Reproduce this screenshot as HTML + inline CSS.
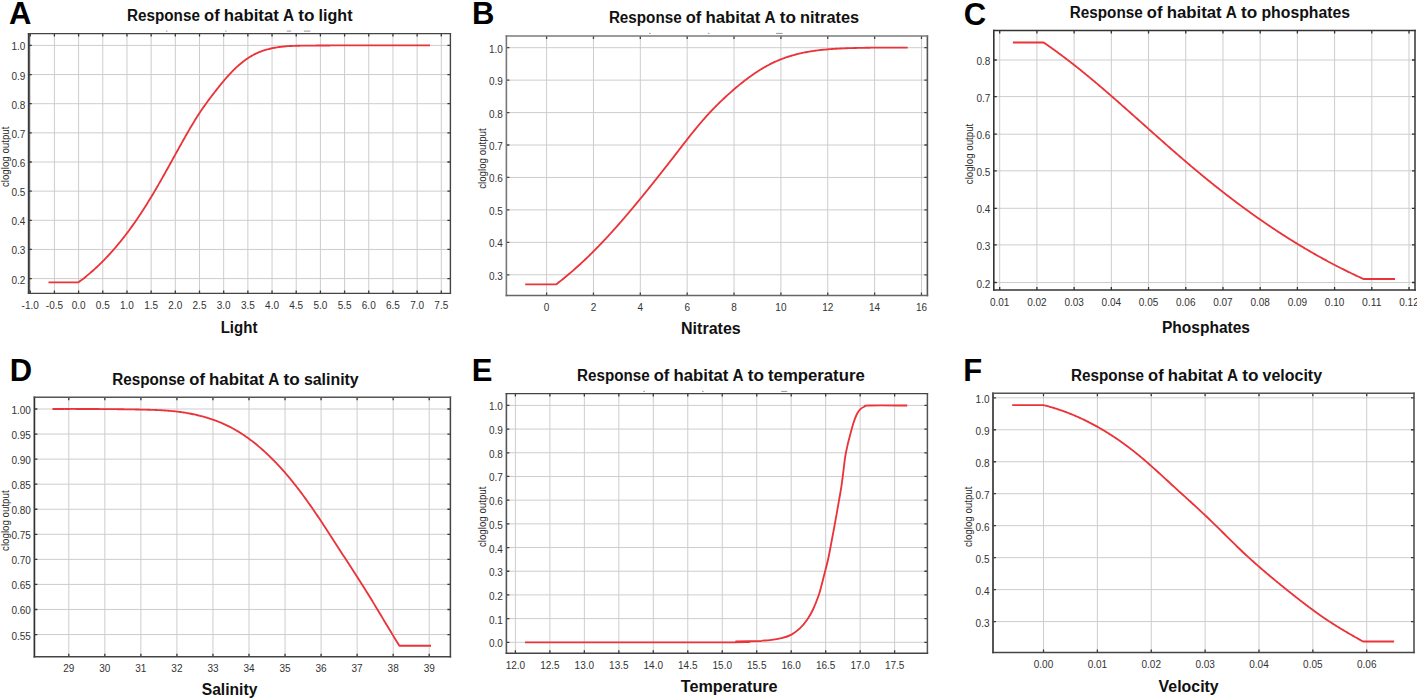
<!DOCTYPE html><html><head><meta charset="utf-8"><style>html,body{margin:0;padding:0;background:#fff;overflow:hidden;width:1417px;height:698px;}svg{display:block;}text{font-family:"Liberation Sans",sans-serif;}</style></head><body>
<svg width="1417" height="698" viewBox="0 0 1417 698">
<rect width="1417" height="698" fill="#fff"/>
<g stroke="#cdcdcd" stroke-width="1.0"><line x1="30.24" y1="33.6" x2="30.24" y2="293.4"/><line x1="54.42" y1="33.6" x2="54.42" y2="293.4"/><line x1="78.6" y1="33.6" x2="78.6" y2="293.4"/><line x1="102.78" y1="33.6" x2="102.78" y2="293.4"/><line x1="126.96" y1="33.6" x2="126.96" y2="293.4"/><line x1="151.14" y1="33.6" x2="151.14" y2="293.4"/><line x1="175.32" y1="33.6" x2="175.32" y2="293.4"/><line x1="199.5" y1="33.6" x2="199.5" y2="293.4"/><line x1="223.68" y1="33.6" x2="223.68" y2="293.4"/><line x1="247.86" y1="33.6" x2="247.86" y2="293.4"/><line x1="272.04" y1="33.6" x2="272.04" y2="293.4"/><line x1="296.22" y1="33.6" x2="296.22" y2="293.4"/><line x1="320.4" y1="33.6" x2="320.4" y2="293.4"/><line x1="344.58" y1="33.6" x2="344.58" y2="293.4"/><line x1="368.76" y1="33.6" x2="368.76" y2="293.4"/><line x1="392.94" y1="33.6" x2="392.94" y2="293.4"/><line x1="417.12" y1="33.6" x2="417.12" y2="293.4"/><line x1="441.3" y1="33.6" x2="441.3" y2="293.4"/><line x1="28.8" y1="278.6" x2="450.4" y2="278.6"/><line x1="28.8" y1="249.45" x2="450.4" y2="249.45"/><line x1="28.8" y1="220.3" x2="450.4" y2="220.3"/><line x1="28.8" y1="191.15" x2="450.4" y2="191.15"/><line x1="28.8" y1="162" x2="450.4" y2="162"/><line x1="28.8" y1="132.85" x2="450.4" y2="132.85"/><line x1="28.8" y1="103.7" x2="450.4" y2="103.7"/><line x1="28.8" y1="74.55" x2="450.4" y2="74.55"/><line x1="28.8" y1="45.4" x2="450.4" y2="45.4"/></g>
<path d="M30.24 293.4V290.4M30.24 33.6V36.6M54.42 293.4V290.4M54.42 33.6V36.6M78.6 293.4V290.4M78.6 33.6V36.6M102.78 293.4V290.4M102.78 33.6V36.6M126.96 293.4V290.4M126.96 33.6V36.6M151.14 293.4V290.4M151.14 33.6V36.6M175.32 293.4V290.4M175.32 33.6V36.6M199.5 293.4V290.4M199.5 33.6V36.6M223.68 293.4V290.4M223.68 33.6V36.6M247.86 293.4V290.4M247.86 33.6V36.6M272.04 293.4V290.4M272.04 33.6V36.6M296.22 293.4V290.4M296.22 33.6V36.6M320.4 293.4V290.4M320.4 33.6V36.6M344.58 293.4V290.4M344.58 33.6V36.6M368.76 293.4V290.4M368.76 33.6V36.6M392.94 293.4V290.4M392.94 33.6V36.6M417.12 293.4V290.4M417.12 33.6V36.6M441.3 293.4V290.4M441.3 33.6V36.6M28.8 278.6H31.8M450.4 278.6H447.4M28.8 249.45H31.8M450.4 249.45H447.4M28.8 220.3H31.8M450.4 220.3H447.4M28.8 191.15H31.8M450.4 191.15H447.4M28.8 162H31.8M450.4 162H447.4M28.8 132.85H31.8M450.4 132.85H447.4M28.8 103.7H31.8M450.4 103.7H447.4M28.8 74.55H31.8M450.4 74.55H447.4M28.8 45.4H31.8M450.4 45.4H447.4" stroke="#3a3a3a" stroke-width="1.3" fill="none"/>
<path d="M48.5 282.3L78.5 282.3L79.47 281.58L80.43 280.86L81.39 280.13L82.35 279.4L83.29 278.66L84.24 277.91L85.18 277.16L86.11 276.41L87.04 275.65L87.96 274.88L88.88 274.11L89.79 273.34L90.7 272.56L91.6 271.77L92.5 270.98L93.4 270.19L94.29 269.39L95.17 268.59L96.05 267.78L96.92 266.97L97.79 266.15L98.66 265.33L99.52 264.5L100.38 263.67L101.23 262.83L102.08 261.99L102.92 261.15L103.76 260.3L104.59 259.45L105.42 258.59L106.25 257.73L107.07 256.86L107.89 256L108.7 255.12L109.51 254.25L110.31 253.37L111.11 252.48L111.91 251.59L112.7 250.7L113.49 249.8L114.27 248.91L115.05 248L115.83 247.1L116.6 246.19L117.37 245.27L118.13 244.36L118.9 243.44L119.65 242.51L120.41 241.59L121.16 240.66L121.9 239.72L122.64 238.79L123.38 237.85L124.12 236.91L124.85 235.96L125.58 235.01L126.3 234.06L127.03 233.11L127.74 232.15L128.46 231.19L129.17 230.23L129.88 229.26L130.58 228.3L131.29 227.33L131.98 226.35L132.68 225.38L133.37 224.4L134.06 223.42L134.75 222.44L135.43 221.46L136.11 220.47L136.79 219.48L137.46 218.49L138.14 217.5L138.81 216.5L139.47 215.5L140.13 214.51L140.8 213.5L141.45 212.5L142.11 211.5L142.76 210.49L143.41 209.48L144.06 208.47L144.7 207.46L145.35 206.45L145.99 205.43L146.62 204.42L147.26 203.4L147.89 202.38L148.52 201.36L149.15 200.34L149.77 199.32L150.4 198.29L151.02 197.27L151.64 196.24L152.26 195.21L152.87 194.19L153.48 193.16L154.1 192.13L154.7 191.1L155.31 190.06L155.92 189.03L156.52 188L157.12 186.96L157.72 185.93L158.32 184.89L158.92 183.85L159.51 182.82L160.11 181.78L160.7 180.74L161.29 179.7L161.88 178.66L162.47 177.62L163.06 176.58L163.65 175.54L164.23 174.49L164.82 173.45L165.4 172.41L165.98 171.37L166.57 170.32L167.15 169.28L167.73 168.23L168.31 167.19L168.89 166.14L169.47 165.1L170.05 164.05L170.63 163.01L171.21 161.96L171.78 160.91L172.36 159.87L172.94 158.82L173.52 157.78L174.1 156.73L174.67 155.68L175.25 154.64L175.83 153.59L176.41 152.54L176.99 151.5L177.57 150.45L178.15 149.41L178.73 148.36L179.31 147.31L179.89 146.27L180.47 145.22L181.05 144.18L181.64 143.13L182.22 142.09L182.81 141.05L183.39 140L183.98 138.96L184.57 137.92L185.16 136.87L185.75 135.83L186.34 134.79L186.93 133.75L187.53 132.71L188.13 131.68L188.73 130.64L189.33 129.6L189.93 128.57L190.54 127.54L191.15 126.51L191.76 125.48L192.37 124.45L192.99 123.42L193.61 122.4L194.23 121.38L194.86 120.36L195.49 119.34L196.12 118.33L196.76 117.32L197.4 116.31L198.05 115.3L198.7 114.3L199.35 113.3L200.01 112.3L200.68 111.31L201.34 110.32L202.02 109.33L202.69 108.35L203.38 107.36L204.06 106.39L204.75 105.41L205.44 104.44L206.14 103.47L206.84 102.5L207.55 101.54L208.26 100.57L208.97 99.62L209.68 98.66L210.4 97.7L211.12 96.75L211.85 95.8L212.57 94.85L213.3 93.9L214.03 92.95L214.77 92.01L215.5 91.07L216.24 90.12L216.98 89.18L217.72 88.24L218.47 87.31L219.21 86.37L219.96 85.44L220.72 84.51L221.47 83.58L222.24 82.66L223 81.74L223.77 80.82L224.54 79.91L225.32 79L226.11 78.1L226.9 77.2L227.7 76.3L228.5 75.41L229.31 74.53L230.12 73.65L230.95 72.78L231.78 71.92L232.62 71.06L233.46 70.21L234.32 69.36L235.18 68.53L236.05 67.7L236.93 66.88L237.82 66.07L238.72 65.27L239.62 64.49L240.54 63.71L241.46 62.95L242.4 62.19L243.34 61.45L244.29 60.73L245.25 60.02L246.22 59.33L247.2 58.65L248.19 57.98L249.19 57.34L250.2 56.71L251.22 56.1L252.24 55.51L253.28 54.94L254.33 54.39L255.39 53.86L256.46 53.35L257.54 52.86L258.62 52.39L259.72 51.94L260.82 51.51L261.94 51.11L263.06 50.71L264.18 50.34L265.32 49.99L266.46 49.65L267.61 49.33L268.76 49.03L269.92 48.74L271.08 48.48L272.25 48.22L273.42 47.98L274.6 47.76L275.77 47.55L276.96 47.35L278.14 47.17L279.33 47L280.51 46.85L281.7 46.71L282.89 46.58L284.08 46.46L285.28 46.35L286.47 46.25L287.66 46.17L288.85 46.09L290.05 46.02L291.24 45.96L292.43 45.91L293.63 45.86L294.82 45.82L296.01 45.79L297.21 45.76L298.4 45.73L299.6 45.71L300.79 45.69L301.99 45.68L303.18 45.66L304.38 45.65L305.57 45.64L306.77 45.62L307.96 45.61L309.16 45.6L310.35 45.59L311.55 45.58L312.74 45.57L313.94 45.56L315.13 45.55L316.33 45.54L317.52 45.53L318.72 45.52L319.92 45.51L321.11 45.5L322.31 45.5L323.5 45.49L324.7 45.48L325.89 45.47L327.09 45.47L328.28 45.46L329.48 45.46L330.68 45.45L331.87 45.44L333.07 45.44L334.26 45.43L335.46 45.43L336.65 45.42L337.85 45.42L339.05 45.42L340.24 45.41L341.44 45.41L342.63 45.41L343.83 45.4L345.03 45.4L346.22 45.4L347.42 45.4L348.61 45.39L349.81 45.39L351.01 45.39L352.2 45.39L353.4 45.39L354.59 45.39L355.79 45.38L356.99 45.38L358.18 45.38L359.38 45.38L360.58 45.38L361.77 45.38L362.97 45.38L364.17 45.38L365.36 45.38L366.56 45.38L367.75 45.38L368.95 45.38L370.15 45.38L371.34 45.38L372.54 45.38L373.74 45.38L374.93 45.38L376.13 45.38L377.33 45.39L378.52 45.39L379.72 45.39L380.92 45.39L382.11 45.39L383.31 45.39L384.51 45.39L385.7 45.39L386.9 45.39L388.1 45.39L389.3 45.4L390.49 45.4L391.69 45.4L392.89 45.4L394.08 45.4L395.28 45.4L396.48 45.4L397.67 45.4L398.87 45.41L400.07 45.41L401.27 45.41L402.46 45.41L403.66 45.41L404.86 45.41L406.05 45.41L407.25 45.41L408.45 45.41L409.65 45.41L410.84 45.41L412.04 45.41L413.24 45.41L414.43 45.41L415.63 45.41L416.83 45.41L418.03 45.41L419.22 45.41L420.42 45.41L421.62 45.41L422.82 45.41L424.01 45.41L425.21 45.41L426.41 45.41L427.61 45.4L428.8 45.4L430 45.4" fill="none" stroke="#ea3439" stroke-width="1.85" stroke-linejoin="round" stroke-linecap="butt"/>
<line x1="28.8" y1="32.9" x2="28.8" y2="294.1" stroke="#3a3a3a" stroke-width="2.0"/>
<line x1="450.4" y1="32.9" x2="450.4" y2="294.1" stroke="#444" stroke-width="1.4"/>
<line x1="27.8" y1="33.6" x2="451.1" y2="33.6" stroke="#444" stroke-width="1.4"/>
<line x1="27.8" y1="293.4" x2="451.1" y2="293.4" stroke="#444" stroke-width="1.4"/>
<g font-size="10.0" fill="#333"><text x="11.5" y="283.6" textLength="13.9" lengthAdjust="spacingAndGlyphs">0.2</text><text x="11.5" y="254.45" textLength="13.9" lengthAdjust="spacingAndGlyphs">0.3</text><text x="11.5" y="225.3" textLength="13.9" lengthAdjust="spacingAndGlyphs">0.4</text><text x="11.5" y="196.15" textLength="13.9" lengthAdjust="spacingAndGlyphs">0.5</text><text x="11.5" y="167" textLength="13.9" lengthAdjust="spacingAndGlyphs">0.6</text><text x="11.5" y="137.85" textLength="13.9" lengthAdjust="spacingAndGlyphs">0.7</text><text x="11.5" y="108.7" textLength="13.9" lengthAdjust="spacingAndGlyphs">0.8</text><text x="11.5" y="79.55" textLength="13.9" lengthAdjust="spacingAndGlyphs">0.9</text><text x="11.5" y="50.4" textLength="13.9" lengthAdjust="spacingAndGlyphs">1.0</text><text x="21.62" y="308.6" textLength="17.23" lengthAdjust="spacingAndGlyphs">-1.0</text><text x="45.8" y="308.6" textLength="17.23" lengthAdjust="spacingAndGlyphs">-0.5</text><text x="71.65" y="308.6" textLength="13.9" lengthAdjust="spacingAndGlyphs">0.0</text><text x="95.83" y="308.6" textLength="13.9" lengthAdjust="spacingAndGlyphs">0.5</text><text x="120.01" y="308.6" textLength="13.9" lengthAdjust="spacingAndGlyphs">1.0</text><text x="144.19" y="308.6" textLength="13.9" lengthAdjust="spacingAndGlyphs">1.5</text><text x="168.37" y="308.6" textLength="13.9" lengthAdjust="spacingAndGlyphs">2.0</text><text x="192.55" y="308.6" textLength="13.9" lengthAdjust="spacingAndGlyphs">2.5</text><text x="216.73" y="308.6" textLength="13.9" lengthAdjust="spacingAndGlyphs">3.0</text><text x="240.91" y="308.6" textLength="13.9" lengthAdjust="spacingAndGlyphs">3.5</text><text x="265.09" y="308.6" textLength="13.9" lengthAdjust="spacingAndGlyphs">4.0</text><text x="289.27" y="308.6" textLength="13.9" lengthAdjust="spacingAndGlyphs">4.5</text><text x="313.45" y="308.6" textLength="13.9" lengthAdjust="spacingAndGlyphs">5.0</text><text x="337.63" y="308.6" textLength="13.9" lengthAdjust="spacingAndGlyphs">5.5</text><text x="361.81" y="308.6" textLength="13.9" lengthAdjust="spacingAndGlyphs">6.0</text><text x="385.99" y="308.6" textLength="13.9" lengthAdjust="spacingAndGlyphs">6.5</text><text x="410.17" y="308.6" textLength="13.9" lengthAdjust="spacingAndGlyphs">7.0</text><text x="434.35" y="308.6" textLength="13.9" lengthAdjust="spacingAndGlyphs">7.5</text></g>
<g font-size="15.8" font-weight="bold" fill="#111"><text x="126.98" y="20.7" textLength="72.9" lengthAdjust="spacingAndGlyphs">Response</text><text x="204.03" y="20.7" textLength="15.66" lengthAdjust="spacingAndGlyphs">of</text><text x="223.83" y="20.7" textLength="55.03" lengthAdjust="spacingAndGlyphs">habitat</text><text x="283" y="20.7" textLength="11.11" lengthAdjust="spacingAndGlyphs">A</text><text x="298.25" y="20.7" textLength="16.22" lengthAdjust="spacingAndGlyphs">to</text><text x="318.62" y="20.7" textLength="33.91" lengthAdjust="spacingAndGlyphs">light</text></g>
<text x="220.7" y="333.2" font-size="15.6" font-weight="bold" fill="#111" textLength="36.7" lengthAdjust="spacingAndGlyphs">Light</text>
<text x="9.05" y="24.1" font-size="31.0" font-weight="bold" fill="#000">A</text>
<text transform="translate(8.9,187.1) rotate(-90)" x="0" y="0" font-size="10.8" fill="#2a2a2a" textLength="60.5" lengthAdjust="spacingAndGlyphs">cloglog output</text>
<g stroke="#cdcdcd" stroke-width="1.0"><line x1="546.6" y1="36" x2="546.6" y2="295.5"/><line x1="593.46" y1="36" x2="593.46" y2="295.5"/><line x1="640.32" y1="36" x2="640.32" y2="295.5"/><line x1="687.18" y1="36" x2="687.18" y2="295.5"/><line x1="734.04" y1="36" x2="734.04" y2="295.5"/><line x1="780.9" y1="36" x2="780.9" y2="295.5"/><line x1="827.76" y1="36" x2="827.76" y2="295.5"/><line x1="874.62" y1="36" x2="874.62" y2="295.5"/><line x1="921.48" y1="36" x2="921.48" y2="295.5"/><line x1="506.4" y1="274.78" x2="927.4" y2="274.78"/><line x1="506.4" y1="242.34" x2="927.4" y2="242.34"/><line x1="506.4" y1="209.9" x2="927.4" y2="209.9"/><line x1="506.4" y1="177.46" x2="927.4" y2="177.46"/><line x1="506.4" y1="145.02" x2="927.4" y2="145.02"/><line x1="506.4" y1="112.58" x2="927.4" y2="112.58"/><line x1="506.4" y1="80.14" x2="927.4" y2="80.14"/><line x1="506.4" y1="47.7" x2="927.4" y2="47.7"/></g>
<path d="M546.6 295.5V292.5M546.6 36V39M593.46 295.5V292.5M593.46 36V39M640.32 295.5V292.5M640.32 36V39M687.18 295.5V292.5M687.18 36V39M734.04 295.5V292.5M734.04 36V39M780.9 295.5V292.5M780.9 36V39M827.76 295.5V292.5M827.76 36V39M874.62 295.5V292.5M874.62 36V39M921.48 295.5V292.5M921.48 36V39M506.4 274.78H509.4M927.4 274.78H924.4M506.4 242.34H509.4M927.4 242.34H924.4M506.4 209.9H509.4M927.4 209.9H924.4M506.4 177.46H509.4M927.4 177.46H924.4M506.4 145.02H509.4M927.4 145.02H924.4M506.4 112.58H509.4M927.4 112.58H924.4M506.4 80.14H509.4M927.4 80.14H924.4M506.4 47.7H509.4M927.4 47.7H924.4" stroke="#444" stroke-width="1.3" fill="none"/>
<path d="M525.2 284.4L556.1 284.4L557.01 283.7L557.93 283L558.83 282.29L559.74 281.58L560.64 280.87L561.54 280.15L562.44 279.43L563.34 278.71L564.23 277.98L565.12 277.26L566.01 276.53L566.89 275.79L567.77 275.06L568.65 274.32L569.53 273.57L570.4 272.83L571.27 272.08L572.14 271.33L573.01 270.58L573.87 269.82L574.73 269.07L575.59 268.31L576.45 267.54L577.3 266.78L578.15 266.01L579 265.24L579.85 264.46L580.7 263.69L581.54 262.91L582.38 262.13L583.22 261.35L584.05 260.56L584.89 259.77L585.72 258.98L586.55 258.19L587.37 257.4L588.2 256.6L589.02 255.8L589.84 255L590.66 254.2L591.48 253.39L592.29 252.59L593.11 251.78L593.92 250.97L594.73 250.15L595.53 249.34L596.34 248.52L597.14 247.7L597.94 246.88L598.74 246.06L599.54 245.23L600.33 244.4L601.13 243.58L601.92 242.75L602.71 241.91L603.5 241.08L604.29 240.24L605.07 239.41L605.85 238.57L606.64 237.73L607.42 236.88L608.19 236.04L608.97 235.2L609.75 234.35L610.52 233.5L611.29 232.65L612.06 231.8L612.83 230.95L613.6 230.09L614.37 229.24L615.13 228.38L615.9 227.52L616.66 226.66L617.42 225.8L618.18 224.94L618.94 224.08L619.69 223.21L620.45 222.35L621.2 221.48L621.96 220.61L622.71 219.74L623.46 218.87L624.21 218L624.96 217.13L625.7 216.26L626.45 215.39L627.2 214.51L627.94 213.63L628.68 212.76L629.42 211.88L630.16 211L630.9 210.12L631.64 209.24L632.38 208.36L633.12 207.48L633.85 206.6L634.59 205.72L635.32 204.83L636.06 203.95L636.79 203.06L637.52 202.18L638.25 201.29L638.98 200.41L639.71 199.52L640.44 198.63L641.17 197.74L641.9 196.85L642.62 195.97L643.35 195.08L644.07 194.19L644.8 193.3L645.52 192.4L646.24 191.51L646.97 190.62L647.69 189.73L648.41 188.84L649.13 187.94L649.85 187.05L650.57 186.15L651.29 185.26L652.01 184.36L652.72 183.47L653.44 182.57L654.16 181.68L654.87 180.78L655.59 179.88L656.3 178.98L657.02 178.08L657.73 177.19L658.44 176.29L659.15 175.39L659.87 174.49L660.58 173.59L661.29 172.69L662 171.78L662.71 170.88L663.42 169.98L664.13 169.08L664.84 168.17L665.54 167.27L666.25 166.37L666.96 165.46L667.67 164.56L668.37 163.65L669.08 162.75L669.78 161.84L670.49 160.94L671.19 160.03L671.9 159.12L672.6 158.22L673.31 157.31L674.01 156.4L674.71 155.49L675.42 154.59L676.12 153.68L676.82 152.77L677.52 151.86L678.23 150.95L678.93 150.04L679.63 149.13L680.33 148.22L681.04 147.31L681.74 146.4L682.44 145.5L683.15 144.59L683.85 143.68L684.55 142.77L685.26 141.87L685.97 140.96L686.67 140.06L687.38 139.15L688.09 138.25L688.8 137.35L689.52 136.45L690.23 135.55L690.94 134.65L691.66 133.75L692.38 132.86L693.1 131.96L693.82 131.07L694.54 130.18L695.27 129.29L696 128.4L696.73 127.52L697.46 126.64L698.19 125.76L698.93 124.88L699.66 124L700.41 123.13L701.15 122.25L701.9 121.38L702.64 120.52L703.4 119.65L704.15 118.79L704.91 117.93L705.67 117.08L706.43 116.22L707.2 115.37L707.97 114.53L708.75 113.68L709.52 112.84L710.3 112L711.09 111.17L711.88 110.34L712.67 109.51L713.47 108.69L714.26 107.87L715.07 107.05L715.87 106.24L716.68 105.42L717.49 104.62L718.31 103.81L719.13 103.01L719.95 102.21L720.77 101.41L721.6 100.62L722.43 99.83L723.27 99.04L724.1 98.26L724.94 97.48L725.79 96.7L726.63 95.92L727.48 95.15L728.34 94.38L729.19 93.61L730.05 92.85L730.91 92.08L731.77 91.32L732.64 90.57L733.51 89.81L734.38 89.06L735.25 88.31L736.13 87.57L737.01 86.83L737.89 86.09L738.78 85.36L739.67 84.63L740.56 83.9L741.46 83.18L742.36 82.46L743.26 81.75L744.17 81.04L745.08 80.34L745.99 79.64L746.91 78.95L747.83 78.26L748.75 77.57L749.68 76.9L750.61 76.22L751.55 75.56L752.49 74.9L753.43 74.24L754.38 73.59L755.33 72.95L756.29 72.31L757.25 71.68L758.21 71.06L759.18 70.45L760.15 69.84L761.13 69.24L762.11 68.64L763.1 68.06L764.09 67.48L765.08 66.91L766.08 66.35L767.08 65.8L768.09 65.25L769.1 64.72L770.12 64.19L771.14 63.67L772.16 63.17L773.19 62.67L774.23 62.18L775.27 61.7L776.31 61.23L777.36 60.78L778.41 60.33L779.47 59.89L780.53 59.47L781.6 59.05L782.67 58.64L783.75 58.25L784.82 57.86L785.91 57.48L786.99 57.11L788.08 56.75L789.17 56.41L790.27 56.07L791.37 55.74L792.47 55.41L793.57 55.1L794.68 54.8L795.79 54.51L796.9 54.22L798.01 53.94L799.13 53.68L800.24 53.42L801.36 53.16L802.48 52.92L803.6 52.69L804.73 52.46L805.85 52.24L806.98 52.03L808.11 51.83L809.24 51.63L810.37 51.44L811.5 51.26L812.63 51.08L813.77 50.92L814.9 50.75L816.04 50.6L817.18 50.45L818.32 50.31L819.46 50.17L820.6 50.04L821.74 49.91L822.88 49.79L824.02 49.68L825.17 49.57L826.31 49.46L827.45 49.36L828.6 49.27L829.75 49.17L830.89 49.09L832.04 49.01L833.19 48.93L834.33 48.85L835.48 48.78L836.63 48.71L837.78 48.65L838.93 48.59L840.07 48.53L841.22 48.48L842.37 48.43L843.52 48.38L844.67 48.33L845.81 48.29L846.96 48.24L848.11 48.2L849.26 48.17L850.4 48.13L851.55 48.09L852.69 48.06L853.84 48.03L854.98 48L856.13 47.97L857.27 47.94L858.42 47.91L859.56 47.89L860.7 47.86L861.85 47.84L862.99 47.82L864.13 47.8L865.28 47.78L866.42 47.76L867.56 47.74L868.7 47.73L869.85 47.71L870.99 47.7L872.13 47.68L873.27 47.67L874.41 47.66L875.56 47.65L876.7 47.64L877.84 47.63L878.99 47.62L880.13 47.61L881.27 47.61L882.42 47.6L883.56 47.6L884.7 47.59L885.85 47.59L886.99 47.59L888.14 47.58L889.29 47.58L890.43 47.58L891.58 47.58L892.73 47.58L893.87 47.58L895.02 47.58L896.17 47.58L897.32 47.58L898.47 47.58L899.62 47.58L900.77 47.58L901.93 47.59L903.08 47.59L904.23 47.59L905.39 47.59L906.54 47.6L907.7 47.6" fill="none" stroke="#ea3439" stroke-width="1.85" stroke-linejoin="round" stroke-linecap="butt"/>
<line x1="506.4" y1="35.2" x2="506.4" y2="296.3" stroke="#777" stroke-width="1.6"/>
<line x1="927.4" y1="35.2" x2="927.4" y2="296.3" stroke="#555" stroke-width="1.6"/>
<line x1="505.6" y1="36" x2="928.2" y2="36" stroke="#7a7a7a" stroke-width="1.6"/>
<line x1="505.6" y1="295.5" x2="928.2" y2="295.5" stroke="#666" stroke-width="1.6"/>
<g font-size="10.0" fill="#333"><text x="488.9" y="279.78" textLength="13.9" lengthAdjust="spacingAndGlyphs">0.3</text><text x="488.9" y="247.34" textLength="13.9" lengthAdjust="spacingAndGlyphs">0.4</text><text x="488.9" y="214.9" textLength="13.9" lengthAdjust="spacingAndGlyphs">0.5</text><text x="488.9" y="182.46" textLength="13.9" lengthAdjust="spacingAndGlyphs">0.6</text><text x="488.9" y="150.02" textLength="13.9" lengthAdjust="spacingAndGlyphs">0.7</text><text x="488.9" y="117.58" textLength="13.9" lengthAdjust="spacingAndGlyphs">0.8</text><text x="488.9" y="85.14" textLength="13.9" lengthAdjust="spacingAndGlyphs">0.9</text><text x="488.9" y="52.7" textLength="13.9" lengthAdjust="spacingAndGlyphs">1.0</text><text x="543.82" y="310.5" textLength="5.56" lengthAdjust="spacingAndGlyphs">0</text><text x="590.68" y="310.5" textLength="5.56" lengthAdjust="spacingAndGlyphs">2</text><text x="637.54" y="310.5" textLength="5.56" lengthAdjust="spacingAndGlyphs">4</text><text x="684.4" y="310.5" textLength="5.56" lengthAdjust="spacingAndGlyphs">6</text><text x="731.26" y="310.5" textLength="5.56" lengthAdjust="spacingAndGlyphs">8</text><text x="775.34" y="310.5" textLength="11.12" lengthAdjust="spacingAndGlyphs">10</text><text x="822.2" y="310.5" textLength="11.12" lengthAdjust="spacingAndGlyphs">12</text><text x="869.06" y="310.5" textLength="11.12" lengthAdjust="spacingAndGlyphs">14</text><text x="915.92" y="310.5" textLength="11.12" lengthAdjust="spacingAndGlyphs">16</text></g>
<g font-size="15.8" font-weight="bold" fill="#111"><text x="608.89" y="22.5" textLength="72.74" lengthAdjust="spacingAndGlyphs">Response</text><text x="685.76" y="22.5" textLength="15.62" lengthAdjust="spacingAndGlyphs">of</text><text x="705.51" y="22.5" textLength="54.91" lengthAdjust="spacingAndGlyphs">habitat</text><text x="764.55" y="22.5" textLength="11.08" lengthAdjust="spacingAndGlyphs">A</text><text x="779.77" y="22.5" textLength="16.19" lengthAdjust="spacingAndGlyphs">to</text><text x="800.09" y="22.5" textLength="59.04" lengthAdjust="spacingAndGlyphs">nitrates</text></g>
<text x="681" y="333.6" font-size="15.6" font-weight="bold" fill="#111" textLength="59.8" lengthAdjust="spacingAndGlyphs">Nitrates</text>
<text x="472.05" y="24" font-size="31.0" font-weight="bold" fill="#000">B</text>
<text transform="translate(485.7,188.8) rotate(-90)" x="0" y="0" font-size="10.8" fill="#2a2a2a" textLength="60.5" lengthAdjust="spacingAndGlyphs">cloglog output</text>
<g stroke="#cdcdcd" stroke-width="1.0"><line x1="999.7" y1="30.6" x2="999.7" y2="290.1"/><line x1="1036.91" y1="30.6" x2="1036.91" y2="290.1"/><line x1="1074.12" y1="30.6" x2="1074.12" y2="290.1"/><line x1="1111.33" y1="30.6" x2="1111.33" y2="290.1"/><line x1="1148.54" y1="30.6" x2="1148.54" y2="290.1"/><line x1="1185.75" y1="30.6" x2="1185.75" y2="290.1"/><line x1="1222.96" y1="30.6" x2="1222.96" y2="290.1"/><line x1="1260.17" y1="30.6" x2="1260.17" y2="290.1"/><line x1="1297.38" y1="30.6" x2="1297.38" y2="290.1"/><line x1="1334.59" y1="30.6" x2="1334.59" y2="290.1"/><line x1="1371.8" y1="30.6" x2="1371.8" y2="290.1"/><line x1="1409.01" y1="30.6" x2="1409.01" y2="290.1"/><line x1="993.8" y1="282.5" x2="1415" y2="282.5"/><line x1="993.8" y1="244.9" x2="1415" y2="244.9"/><line x1="993.8" y1="208.3" x2="1415" y2="208.3"/><line x1="993.8" y1="170.8" x2="1415" y2="170.8"/><line x1="993.8" y1="134.2" x2="1415" y2="134.2"/><line x1="993.8" y1="96.6" x2="1415" y2="96.6"/><line x1="993.8" y1="60" x2="1415" y2="60"/></g>
<path d="M999.7 290.1V287.1M999.7 30.6V33.6M1036.91 290.1V287.1M1036.91 30.6V33.6M1074.12 290.1V287.1M1074.12 30.6V33.6M1111.33 290.1V287.1M1111.33 30.6V33.6M1148.54 290.1V287.1M1148.54 30.6V33.6M1185.75 290.1V287.1M1185.75 30.6V33.6M1222.96 290.1V287.1M1222.96 30.6V33.6M1260.17 290.1V287.1M1260.17 30.6V33.6M1297.38 290.1V287.1M1297.38 30.6V33.6M1334.59 290.1V287.1M1334.59 30.6V33.6M1371.8 290.1V287.1M1371.8 30.6V33.6M1409.01 290.1V287.1M1409.01 30.6V33.6M993.8 282.5H996.8M1415 282.5H1412M993.8 244.9H996.8M1415 244.9H1412M993.8 208.3H996.8M1415 208.3H1412M993.8 170.8H996.8M1415 170.8H1412M993.8 134.2H996.8M1415 134.2H1412M993.8 96.6H996.8M1415 96.6H1412M993.8 60H996.8M1415 60H1412" stroke="#333" stroke-width="1.3" fill="none"/>
<path d="M1012.9 42.5L1043.6 42.5L1044.5 43.11L1045.39 43.72L1046.28 44.34L1047.17 44.95L1048.06 45.57L1048.95 46.19L1049.84 46.82L1050.72 47.44L1051.6 48.07L1052.49 48.7L1053.37 49.33L1054.25 49.96L1055.12 50.59L1056 51.23L1056.87 51.87L1057.75 52.5L1058.62 53.15L1059.49 53.79L1060.36 54.43L1061.23 55.08L1062.09 55.72L1062.96 56.37L1063.82 57.02L1064.69 57.67L1065.55 58.33L1066.41 58.98L1067.27 59.64L1068.13 60.29L1068.98 60.95L1069.84 61.61L1070.69 62.28L1071.55 62.94L1072.4 63.6L1073.25 64.27L1074.1 64.94L1074.95 65.6L1075.8 66.27L1076.65 66.95L1077.49 67.62L1078.34 68.29L1079.18 68.97L1080.02 69.64L1080.87 70.32L1081.71 71L1082.55 71.68L1083.39 72.36L1084.22 73.04L1085.06 73.73L1085.9 74.41L1086.73 75.1L1087.57 75.78L1088.4 76.47L1089.24 77.16L1090.07 77.85L1090.9 78.54L1091.73 79.23L1092.56 79.92L1093.39 80.62L1094.22 81.31L1095.05 82.01L1095.87 82.7L1096.7 83.4L1097.52 84.1L1098.35 84.8L1099.17 85.5L1100 86.2L1100.82 86.9L1101.64 87.6L1102.46 88.3L1103.29 89.01L1104.11 89.71L1104.93 90.42L1105.75 91.12L1106.56 91.83L1107.38 92.53L1108.2 93.24L1109.02 93.95L1109.83 94.66L1110.65 95.37L1111.47 96.08L1112.28 96.79L1113.1 97.5L1113.91 98.21L1114.73 98.92L1115.54 99.64L1116.35 100.35L1117.17 101.06L1117.98 101.78L1118.79 102.49L1119.6 103.21L1120.42 103.92L1121.23 104.64L1122.04 105.35L1122.85 106.07L1123.66 106.79L1124.47 107.5L1125.28 108.22L1126.09 108.94L1126.9 109.66L1127.71 110.38L1128.52 111.09L1129.33 111.81L1130.14 112.53L1130.95 113.25L1131.76 113.97L1132.57 114.69L1133.38 115.41L1134.19 116.13L1134.99 116.85L1135.8 117.57L1136.61 118.29L1137.42 119.01L1138.23 119.73L1139.03 120.45L1139.84 121.17L1140.65 121.89L1141.46 122.61L1142.27 123.33L1143.08 124.05L1143.88 124.77L1144.69 125.49L1145.5 126.21L1146.31 126.93L1147.12 127.65L1147.92 128.37L1148.73 129.1L1149.54 129.82L1150.35 130.54L1151.16 131.26L1151.97 131.98L1152.78 132.7L1153.58 133.42L1154.39 134.13L1155.2 134.85L1156.01 135.57L1156.82 136.29L1157.63 137.01L1158.44 137.73L1159.25 138.45L1160.06 139.17L1160.87 139.88L1161.68 140.6L1162.5 141.32L1163.31 142.04L1164.12 142.75L1164.93 143.47L1165.74 144.19L1166.55 144.9L1167.37 145.62L1168.18 146.33L1168.99 147.05L1169.81 147.76L1170.62 148.47L1171.44 149.19L1172.25 149.9L1173.07 150.61L1173.88 151.33L1174.7 152.04L1175.52 152.75L1176.33 153.46L1177.15 154.17L1177.97 154.88L1178.79 155.59L1179.6 156.3L1180.42 157L1181.24 157.71L1182.06 158.42L1182.88 159.13L1183.7 159.83L1184.53 160.54L1185.35 161.24L1186.17 161.94L1186.99 162.65L1187.82 163.35L1188.64 164.05L1189.47 164.75L1190.29 165.45L1191.12 166.15L1191.95 166.85L1192.77 167.55L1193.6 168.25L1194.43 168.94L1195.26 169.64L1196.09 170.33L1196.92 171.03L1197.75 171.72L1198.59 172.41L1199.42 173.11L1200.25 173.8L1201.09 174.49L1201.92 175.18L1202.76 175.86L1203.59 176.55L1204.43 177.24L1205.27 177.92L1206.11 178.61L1206.95 179.29L1207.79 179.98L1208.63 180.66L1209.47 181.34L1210.31 182.02L1211.15 182.7L1212 183.38L1212.84 184.06L1213.68 184.73L1214.53 185.41L1215.38 186.08L1216.22 186.76L1217.07 187.43L1217.92 188.1L1218.77 188.77L1219.62 189.44L1220.47 190.11L1221.32 190.78L1222.17 191.45L1223.03 192.11L1223.88 192.78L1224.74 193.44L1225.59 194.11L1226.45 194.77L1227.3 195.43L1228.16 196.09L1229.02 196.75L1229.88 197.41L1230.74 198.07L1231.6 198.72L1232.46 199.38L1233.32 200.03L1234.19 200.68L1235.05 201.33L1235.91 201.99L1236.78 202.63L1237.65 203.28L1238.51 203.93L1239.38 204.58L1240.25 205.22L1241.12 205.87L1241.99 206.51L1242.86 207.15L1243.73 207.79L1244.6 208.43L1245.47 209.07L1246.35 209.71L1247.22 210.34L1248.1 210.98L1248.98 211.61L1249.85 212.25L1250.73 212.88L1251.61 213.51L1252.49 214.14L1253.37 214.77L1254.25 215.39L1255.13 216.02L1256.02 216.64L1256.9 217.27L1257.78 217.89L1258.67 218.51L1259.55 219.13L1260.44 219.75L1261.33 220.36L1262.22 220.98L1263.11 221.59L1264 222.21L1264.89 222.82L1265.78 223.43L1266.67 224.04L1267.57 224.65L1268.46 225.26L1269.36 225.86L1270.25 226.47L1271.15 227.07L1272.05 227.67L1272.95 228.27L1273.85 228.87L1274.75 229.47L1275.65 230.07L1276.55 230.66L1277.45 231.26L1278.36 231.85L1279.26 232.44L1280.17 233.03L1281.08 233.62L1281.98 234.21L1282.89 234.79L1283.8 235.38L1284.71 235.96L1285.62 236.54L1286.53 237.12L1287.45 237.7L1288.36 238.28L1289.27 238.85L1290.19 239.43L1291.11 240L1292.02 240.57L1292.94 241.14L1293.86 241.71L1294.78 242.28L1295.7 242.85L1296.62 243.41L1297.54 243.97L1298.47 244.54L1299.39 245.1L1300.32 245.66L1301.24 246.21L1302.17 246.77L1303.1 247.32L1304.03 247.88L1304.96 248.43L1305.89 248.98L1306.82 249.53L1307.75 250.07L1308.69 250.62L1309.62 251.16L1310.56 251.7L1311.49 252.24L1312.43 252.78L1313.37 253.32L1314.31 253.86L1315.25 254.39L1316.19 254.92L1317.13 255.46L1318.08 255.99L1319.02 256.51L1319.96 257.04L1320.91 257.56L1321.86 258.09L1322.8 258.61L1323.75 259.13L1324.7 259.65L1325.65 260.17L1326.61 260.68L1327.56 261.19L1328.51 261.71L1329.47 262.22L1330.42 262.73L1331.38 263.23L1332.34 263.74L1333.29 264.24L1334.25 264.74L1335.21 265.24L1336.18 265.74L1337.14 266.24L1338.1 266.73L1339.07 267.23L1340.03 267.72L1341 268.21L1341.96 268.7L1342.93 269.19L1343.9 269.67L1344.87 270.15L1345.84 270.64L1346.82 271.12L1347.79 271.59L1348.76 272.07L1349.74 272.54L1350.72 273.02L1351.69 273.49L1352.67 273.96L1353.65 274.42L1354.63 274.89L1355.61 275.35L1356.6 275.82L1357.58 276.28L1358.56 276.73L1359.55 277.19L1360.54 277.65L1361.52 278.1L1362.51 278.55L1363.5 279L1395 279" fill="none" stroke="#ea3439" stroke-width="1.85" stroke-linejoin="round" stroke-linecap="butt"/>
<line x1="993.8" y1="29.85" x2="993.8" y2="290.85" stroke="#333" stroke-width="1.6"/>
<line x1="1415" y1="29.85" x2="1415" y2="290.85" stroke="#333" stroke-width="1.5"/>
<line x1="993" y1="30.6" x2="1415.75" y2="30.6" stroke="#333" stroke-width="1.5"/>
<line x1="993" y1="290.1" x2="1415.75" y2="290.1" stroke="#333" stroke-width="1.5"/>
<g font-size="10.0" fill="#333"><text x="976.4" y="287.5" textLength="13.9" lengthAdjust="spacingAndGlyphs">0.2</text><text x="976.4" y="249.9" textLength="13.9" lengthAdjust="spacingAndGlyphs">0.3</text><text x="976.4" y="213.3" textLength="13.9" lengthAdjust="spacingAndGlyphs">0.4</text><text x="976.4" y="175.8" textLength="13.9" lengthAdjust="spacingAndGlyphs">0.5</text><text x="976.4" y="139.2" textLength="13.9" lengthAdjust="spacingAndGlyphs">0.6</text><text x="976.4" y="101.6" textLength="13.9" lengthAdjust="spacingAndGlyphs">0.7</text><text x="976.4" y="65" textLength="13.9" lengthAdjust="spacingAndGlyphs">0.8</text><text x="989.97" y="305.7" textLength="19.46" lengthAdjust="spacingAndGlyphs">0.01</text><text x="1027.18" y="305.7" textLength="19.46" lengthAdjust="spacingAndGlyphs">0.02</text><text x="1064.39" y="305.7" textLength="19.46" lengthAdjust="spacingAndGlyphs">0.03</text><text x="1101.6" y="305.7" textLength="19.46" lengthAdjust="spacingAndGlyphs">0.04</text><text x="1138.81" y="305.7" textLength="19.46" lengthAdjust="spacingAndGlyphs">0.05</text><text x="1176.02" y="305.7" textLength="19.46" lengthAdjust="spacingAndGlyphs">0.06</text><text x="1213.23" y="305.7" textLength="19.46" lengthAdjust="spacingAndGlyphs">0.07</text><text x="1250.44" y="305.7" textLength="19.46" lengthAdjust="spacingAndGlyphs">0.08</text><text x="1287.65" y="305.7" textLength="19.46" lengthAdjust="spacingAndGlyphs">0.09</text><text x="1324.86" y="305.7" textLength="19.46" lengthAdjust="spacingAndGlyphs">0.10</text><text x="1362.07" y="305.7" textLength="19.46" lengthAdjust="spacingAndGlyphs">0.11</text><text x="1399.28" y="305.7" textLength="19.46" lengthAdjust="spacingAndGlyphs">0.12</text></g>
<g font-size="15.8" font-weight="bold" fill="#111"><text x="1069.78" y="18.3" textLength="72.93" lengthAdjust="spacingAndGlyphs">Response</text><text x="1146.86" y="18.3" textLength="15.66" lengthAdjust="spacingAndGlyphs">of</text><text x="1166.67" y="18.3" textLength="55.05" lengthAdjust="spacingAndGlyphs">habitat</text><text x="1225.86" y="18.3" textLength="11.11" lengthAdjust="spacingAndGlyphs">A</text><text x="1241.12" y="18.3" textLength="16.23" lengthAdjust="spacingAndGlyphs">to</text><text x="1261.49" y="18.3" textLength="88.54" lengthAdjust="spacingAndGlyphs">phosphates</text></g>
<text x="1161.9" y="333.2" font-size="15.6" font-weight="bold" fill="#111" textLength="88.1" lengthAdjust="spacingAndGlyphs">Phosphates</text>
<text x="963.75" y="24.6" font-size="31.0" font-weight="bold" fill="#000">C</text>
<text transform="translate(973.2,184.2) rotate(-90)" x="0" y="0" font-size="10.8" fill="#2a2a2a" textLength="60.5" lengthAdjust="spacingAndGlyphs">cloglog output</text>
<g stroke="#cdcdcd" stroke-width="1.0"><line x1="68.8" y1="397.3" x2="68.8" y2="656.7"/><line x1="104.84" y1="397.3" x2="104.84" y2="656.7"/><line x1="140.88" y1="397.3" x2="140.88" y2="656.7"/><line x1="176.92" y1="397.3" x2="176.92" y2="656.7"/><line x1="212.96" y1="397.3" x2="212.96" y2="656.7"/><line x1="249" y1="397.3" x2="249" y2="656.7"/><line x1="285.04" y1="397.3" x2="285.04" y2="656.7"/><line x1="321.08" y1="397.3" x2="321.08" y2="656.7"/><line x1="357.12" y1="397.3" x2="357.12" y2="656.7"/><line x1="393.16" y1="397.3" x2="393.16" y2="656.7"/><line x1="429.2" y1="397.3" x2="429.2" y2="656.7"/><line x1="34.4" y1="634.54" x2="450.4" y2="634.54"/><line x1="34.4" y1="609.48" x2="450.4" y2="609.48"/><line x1="34.4" y1="584.42" x2="450.4" y2="584.42"/><line x1="34.4" y1="559.36" x2="450.4" y2="559.36"/><line x1="34.4" y1="534.3" x2="450.4" y2="534.3"/><line x1="34.4" y1="509.24" x2="450.4" y2="509.24"/><line x1="34.4" y1="484.18" x2="450.4" y2="484.18"/><line x1="34.4" y1="459.12" x2="450.4" y2="459.12"/><line x1="34.4" y1="434.06" x2="450.4" y2="434.06"/><line x1="34.4" y1="409" x2="450.4" y2="409"/></g>
<path d="M68.8 656.7V653.7M68.8 397.3V400.3M104.84 656.7V653.7M104.84 397.3V400.3M140.88 656.7V653.7M140.88 397.3V400.3M176.92 656.7V653.7M176.92 397.3V400.3M212.96 656.7V653.7M212.96 397.3V400.3M249 656.7V653.7M249 397.3V400.3M285.04 656.7V653.7M285.04 397.3V400.3M321.08 656.7V653.7M321.08 397.3V400.3M357.12 656.7V653.7M357.12 397.3V400.3M393.16 656.7V653.7M393.16 397.3V400.3M429.2 656.7V653.7M429.2 397.3V400.3M34.4 634.54H37.4M450.4 634.54H447.4M34.4 609.48H37.4M450.4 609.48H447.4M34.4 584.42H37.4M450.4 584.42H447.4M34.4 559.36H37.4M450.4 559.36H447.4M34.4 534.3H37.4M450.4 534.3H447.4M34.4 509.24H37.4M450.4 509.24H447.4M34.4 484.18H37.4M450.4 484.18H447.4M34.4 459.12H37.4M450.4 459.12H447.4M34.4 434.06H37.4M450.4 434.06H447.4M34.4 409H37.4M450.4 409H447.4" stroke="#3a3a3a" stroke-width="1.3" fill="none"/>
<path d="M52.5 409L53.69 408.99L54.87 408.99L56.06 408.98L57.24 408.98L58.43 408.97L59.61 408.97L60.8 408.96L61.98 408.96L63.17 408.96L64.35 408.95L65.54 408.95L66.73 408.95L67.91 408.95L69.1 408.95L70.28 408.94L71.47 408.94L72.65 408.94L73.84 408.94L75.03 408.95L76.21 408.95L77.4 408.95L78.58 408.95L79.77 408.95L80.95 408.96L82.14 408.96L83.32 408.96L84.51 408.97L85.7 408.97L86.88 408.97L88.07 408.98L89.25 408.99L90.44 408.99L91.62 409L92.81 409L93.99 409.01L95.18 409.02L96.36 409.02L97.55 409.03L98.73 409.04L99.92 409.05L101.1 409.06L102.29 409.07L103.47 409.08L104.66 409.09L105.84 409.1L107.02 409.11L108.21 409.12L109.39 409.13L110.58 409.14L111.76 409.15L112.94 409.16L114.13 409.17L115.31 409.19L116.49 409.2L117.67 409.21L118.86 409.23L120.04 409.24L121.22 409.25L122.4 409.27L123.59 409.28L124.77 409.3L125.95 409.32L127.13 409.33L128.32 409.35L129.5 409.37L130.68 409.38L131.86 409.4L133.04 409.42L134.22 409.44L135.41 409.47L136.59 409.49L137.77 409.51L138.95 409.53L140.13 409.56L141.32 409.58L142.5 409.61L143.68 409.64L144.86 409.67L146.04 409.7L147.23 409.73L148.41 409.76L149.59 409.79L150.77 409.83L151.96 409.86L153.14 409.9L154.32 409.95L155.5 409.99L156.69 410.04L157.87 410.09L159.05 410.14L160.23 410.2L161.42 410.26L162.6 410.33L163.78 410.4L164.96 410.48L166.14 410.56L167.32 410.65L168.5 410.74L169.68 410.84L170.87 410.94L172.05 411.05L173.23 411.17L174.4 411.29L175.58 411.42L176.76 411.56L177.94 411.7L179.12 411.85L180.29 412.01L181.47 412.17L182.64 412.34L183.82 412.52L184.99 412.71L186.16 412.9L187.33 413.1L188.5 413.31L189.66 413.53L190.83 413.75L191.99 413.98L193.15 414.22L194.31 414.47L195.47 414.72L196.62 414.98L197.78 415.25L198.93 415.53L200.08 415.82L201.22 416.11L202.37 416.42L203.51 416.73L204.65 417.05L205.78 417.38L206.92 417.71L208.05 418.06L209.17 418.41L210.3 418.78L211.42 419.15L212.53 419.53L213.65 419.92L214.76 420.32L215.86 420.73L216.97 421.14L218.06 421.57L219.16 422L220.25 422.45L221.34 422.9L222.42 423.37L223.5 423.84L224.57 424.32L225.64 424.82L226.71 425.32L227.77 425.83L228.83 426.35L229.88 426.89L230.93 427.43L231.97 427.98L233 428.54L234.04 429.11L235.06 429.7L236.09 430.29L237.1 430.89L238.12 431.49L239.12 432.11L240.13 432.74L241.13 433.37L242.12 434.02L243.11 434.67L244.09 435.33L245.07 435.99L246.05 436.67L247.02 437.35L247.98 438.04L248.94 438.74L249.9 439.45L250.85 440.16L251.8 440.88L252.74 441.6L253.68 442.34L254.61 443.07L255.54 443.82L256.46 444.57L257.38 445.33L258.29 446.09L259.2 446.86L260.1 447.64L261 448.42L261.9 449.2L262.79 449.99L263.68 450.79L264.56 451.59L265.44 452.39L266.31 453.2L267.18 454.02L268.04 454.83L268.9 455.66L269.75 456.48L270.6 457.31L271.45 458.14L272.29 458.98L273.13 459.82L273.96 460.67L274.79 461.52L275.61 462.37L276.43 463.22L277.25 464.08L278.06 464.94L278.86 465.81L279.67 466.68L280.47 467.55L281.26 468.42L282.05 469.3L282.84 470.18L283.63 471.07L284.41 471.96L285.18 472.85L285.96 473.74L286.73 474.64L287.49 475.54L288.26 476.44L289.02 477.35L289.77 478.25L290.52 479.16L291.27 480.08L292.02 480.99L292.76 481.91L293.5 482.83L294.24 483.76L294.98 484.68L295.71 485.61L296.44 486.54L297.16 487.48L297.88 488.41L298.6 489.35L299.32 490.29L300.03 491.23L300.75 492.18L301.46 493.13L302.16 494.07L302.87 495.03L303.57 495.98L304.27 496.93L304.97 497.89L305.66 498.85L306.35 499.81L307.04 500.77L307.73 501.73L308.42 502.7L309.1 503.67L309.79 504.63L310.47 505.6L311.14 506.58L311.82 507.55L312.5 508.52L313.17 509.5L313.84 510.48L314.51 511.45L315.18 512.43L315.85 513.41L316.51 514.4L317.18 515.38L317.84 516.36L318.5 517.35L319.16 518.33L319.82 519.32L320.47 520.31L321.13 521.3L321.79 522.29L322.44 523.28L323.09 524.27L323.75 525.26L324.4 526.25L325.05 527.25L325.7 528.24L326.35 529.24L326.99 530.23L327.64 531.23L328.29 532.22L328.93 533.22L329.58 534.21L330.23 535.21L330.87 536.21L331.51 537.2L332.16 538.2L332.8 539.2L333.45 540.2L334.09 541.19L334.73 542.19L335.38 543.19L336.02 544.18L336.66 545.18L337.31 546.18L337.95 547.17L338.59 548.17L339.24 549.17L339.88 550.16L340.53 551.16L341.17 552.15L341.82 553.15L342.46 554.14L343.11 555.14L343.75 556.13L344.39 557.12L345.04 558.12L345.68 559.11L346.33 560.11L346.97 561.1L347.62 562.09L348.26 563.09L348.91 564.08L349.55 565.07L350.19 566.07L350.84 567.06L351.48 568.05L352.12 569.05L352.77 570.04L353.41 571.04L354.05 572.03L354.69 573.03L355.33 574.02L355.97 575.02L356.61 576.01L357.25 577.01L357.89 578.01L358.53 579L359.17 580L359.8 581L360.44 582L361.07 583L361.71 584L362.34 585L362.97 586L363.61 587L364.24 588L364.87 589L365.5 590.01L366.12 591.01L366.75 592.01L367.38 593.02L368 594.03L368.63 595.03L369.25 596.04L369.87 597.05L370.49 598.06L371.11 599.07L371.73 600.08L372.35 601.09L372.96 602.11L373.58 603.12L374.2 604.13L374.81 605.15L375.42 606.16L376.04 607.18L376.65 608.19L377.26 609.21L377.87 610.23L378.48 611.25L379.09 612.26L379.7 613.28L380.31 614.3L380.92 615.32L381.53 616.33L382.14 617.35L382.75 618.37L383.36 619.39L383.97 620.41L384.57 621.43L385.18 622.44L385.79 623.46L386.4 624.48L387.02 625.49L387.63 626.51L388.24 627.53L388.85 628.54L389.46 629.56L390.08 630.57L390.69 631.59L391.31 632.6L391.92 633.61L392.54 634.63L393.16 635.64L393.77 636.65L394.39 637.66L395.02 638.67L395.64 639.67L396.26 640.68L396.89 641.69L397.51 642.69L398.14 643.7L398.77 644.7L399.4 645.7L431 645.7" fill="none" stroke="#ea3439" stroke-width="1.85" stroke-linejoin="round" stroke-linecap="butt"/>
<line x1="34.4" y1="396.55" x2="34.4" y2="657.45" stroke="#333" stroke-width="1.7"/>
<line x1="450.4" y1="396.55" x2="450.4" y2="657.45" stroke="#444" stroke-width="1.5"/>
<line x1="33.55" y1="397.3" x2="451.15" y2="397.3" stroke="#555" stroke-width="1.5"/>
<line x1="33.55" y1="656.7" x2="451.15" y2="656.7" stroke="#444" stroke-width="1.5"/>
<g font-size="10.0" fill="#333"><text x="11.44" y="639.54" textLength="19.46" lengthAdjust="spacingAndGlyphs">0.55</text><text x="11.44" y="614.48" textLength="19.46" lengthAdjust="spacingAndGlyphs">0.60</text><text x="11.44" y="589.42" textLength="19.46" lengthAdjust="spacingAndGlyphs">0.65</text><text x="11.44" y="564.36" textLength="19.46" lengthAdjust="spacingAndGlyphs">0.70</text><text x="11.44" y="539.3" textLength="19.46" lengthAdjust="spacingAndGlyphs">0.75</text><text x="11.44" y="514.24" textLength="19.46" lengthAdjust="spacingAndGlyphs">0.80</text><text x="11.44" y="489.18" textLength="19.46" lengthAdjust="spacingAndGlyphs">0.85</text><text x="11.44" y="464.12" textLength="19.46" lengthAdjust="spacingAndGlyphs">0.90</text><text x="11.44" y="439.06" textLength="19.46" lengthAdjust="spacingAndGlyphs">0.95</text><text x="11.44" y="414" textLength="19.46" lengthAdjust="spacingAndGlyphs">1.00</text><text x="63.24" y="671.9" textLength="11.12" lengthAdjust="spacingAndGlyphs">29</text><text x="99.28" y="671.9" textLength="11.12" lengthAdjust="spacingAndGlyphs">30</text><text x="135.32" y="671.9" textLength="11.12" lengthAdjust="spacingAndGlyphs">31</text><text x="171.36" y="671.9" textLength="11.12" lengthAdjust="spacingAndGlyphs">32</text><text x="207.4" y="671.9" textLength="11.12" lengthAdjust="spacingAndGlyphs">33</text><text x="243.44" y="671.9" textLength="11.12" lengthAdjust="spacingAndGlyphs">34</text><text x="279.48" y="671.9" textLength="11.12" lengthAdjust="spacingAndGlyphs">35</text><text x="315.52" y="671.9" textLength="11.12" lengthAdjust="spacingAndGlyphs">36</text><text x="351.56" y="671.9" textLength="11.12" lengthAdjust="spacingAndGlyphs">37</text><text x="387.6" y="671.9" textLength="11.12" lengthAdjust="spacingAndGlyphs">38</text><text x="423.64" y="671.9" textLength="11.12" lengthAdjust="spacingAndGlyphs">39</text></g>
<g font-size="15.8" font-weight="bold" fill="#111"><text x="112.18" y="385.2" textLength="72.94" lengthAdjust="spacingAndGlyphs">Response</text><text x="189.27" y="385.2" textLength="15.66" lengthAdjust="spacingAndGlyphs">of</text><text x="209.08" y="385.2" textLength="55.06" lengthAdjust="spacingAndGlyphs">habitat</text><text x="268.28" y="385.2" textLength="11.11" lengthAdjust="spacingAndGlyphs">A</text><text x="283.54" y="385.2" textLength="16.23" lengthAdjust="spacingAndGlyphs">to</text><text x="303.91" y="385.2" textLength="54.82" lengthAdjust="spacingAndGlyphs">salinity</text></g>
<text x="201.7" y="695.4" font-size="15.6" font-weight="bold" fill="#111" textLength="55.7" lengthAdjust="spacingAndGlyphs">Salinity</text>
<text x="9.65" y="381.3" font-size="31.0" font-weight="bold" fill="#000">D</text>
<text transform="translate(8.6,550.9) rotate(-90)" x="0" y="0" font-size="10.8" fill="#2a2a2a" textLength="60.5" lengthAdjust="spacingAndGlyphs">cloglog output</text>
<g stroke="#cdcdcd" stroke-width="1.0"><line x1="515.4" y1="393.6" x2="515.4" y2="653.3"/><line x1="549.88" y1="393.6" x2="549.88" y2="653.3"/><line x1="584.35" y1="393.6" x2="584.35" y2="653.3"/><line x1="618.83" y1="393.6" x2="618.83" y2="653.3"/><line x1="653.3" y1="393.6" x2="653.3" y2="653.3"/><line x1="687.77" y1="393.6" x2="687.77" y2="653.3"/><line x1="722.25" y1="393.6" x2="722.25" y2="653.3"/><line x1="756.73" y1="393.6" x2="756.73" y2="653.3"/><line x1="791.2" y1="393.6" x2="791.2" y2="653.3"/><line x1="825.67" y1="393.6" x2="825.67" y2="653.3"/><line x1="860.15" y1="393.6" x2="860.15" y2="653.3"/><line x1="894.62" y1="393.6" x2="894.62" y2="653.3"/><line x1="506.4" y1="642.3" x2="927.4" y2="642.3"/><line x1="506.4" y1="618.61" x2="927.4" y2="618.61"/><line x1="506.4" y1="594.92" x2="927.4" y2="594.92"/><line x1="506.4" y1="571.23" x2="927.4" y2="571.23"/><line x1="506.4" y1="547.54" x2="927.4" y2="547.54"/><line x1="506.4" y1="523.85" x2="927.4" y2="523.85"/><line x1="506.4" y1="500.16" x2="927.4" y2="500.16"/><line x1="506.4" y1="476.47" x2="927.4" y2="476.47"/><line x1="506.4" y1="452.78" x2="927.4" y2="452.78"/><line x1="506.4" y1="429.09" x2="927.4" y2="429.09"/><line x1="506.4" y1="405.4" x2="927.4" y2="405.4"/></g>
<path d="M515.4 653.3V650.3M515.4 393.6V396.6M549.88 653.3V650.3M549.88 393.6V396.6M584.35 653.3V650.3M584.35 393.6V396.6M618.83 653.3V650.3M618.83 393.6V396.6M653.3 653.3V650.3M653.3 393.6V396.6M687.77 653.3V650.3M687.77 393.6V396.6M722.25 653.3V650.3M722.25 393.6V396.6M756.73 653.3V650.3M756.73 393.6V396.6M791.2 653.3V650.3M791.2 393.6V396.6M825.67 653.3V650.3M825.67 393.6V396.6M860.15 653.3V650.3M860.15 393.6V396.6M894.62 653.3V650.3M894.62 393.6V396.6M506.4 642.3H509.4M927.4 642.3H924.4M506.4 618.61H509.4M927.4 618.61H924.4M506.4 594.92H509.4M927.4 594.92H924.4M506.4 571.23H509.4M927.4 571.23H924.4M506.4 547.54H509.4M927.4 547.54H924.4M506.4 523.85H509.4M927.4 523.85H924.4M506.4 500.16H509.4M927.4 500.16H924.4M506.4 476.47H509.4M927.4 476.47H924.4M506.4 452.78H509.4M927.4 452.78H924.4M506.4 429.09H509.4M927.4 429.09H924.4M506.4 405.4H509.4M927.4 405.4H924.4" stroke="#3a3a3a" stroke-width="1.3" fill="none"/>
<path d="M525 642.3C559.82 642.3 698.67 642.45 733.9 642.3C769.13 642.15 732.17 641.58 736.4 641.4C740.63 641.22 754.92 641.33 759.3 641.2C763.68 641.07 760.92 640.77 762.7 640.6C764.48 640.43 766.87 640.6 770 640.2C773.13 639.8 777.92 639.13 781.5 638.2C785.08 637.27 788.4 636.27 791.5 634.6C794.6 632.93 797.47 630.7 800.1 628.2C802.73 625.7 805.15 622.72 807.3 619.6C809.45 616.48 811.1 613.57 813 609.5C814.9 605.43 817.27 599.27 818.7 595.2C820.13 591.13 820.63 588.68 821.6 585.1C822.57 581.52 823.42 578 824.5 573.7C825.58 569.4 827.03 564.08 828.1 559.3C829.17 554.52 829.88 550.33 830.9 545C831.92 539.67 833.23 532.53 834.2 527.3C835.17 522.07 835.9 518.08 836.7 513.6C837.5 509.12 838.23 504.8 839 500.4C839.77 496 840.58 491.93 841.3 487.2C842.02 482.47 842.65 477.05 843.3 472C843.95 466.95 844.5 461.33 845.2 456.9C845.9 452.47 846.63 449.22 847.5 445.4C848.37 441.58 849.45 437.62 850.4 434C851.35 430.38 852.15 426.95 853.2 423.7C854.25 420.45 855.55 416.9 856.7 414.5C857.85 412.1 858.77 410.63 860.1 409.3C861.43 407.97 863.17 407.13 864.7 406.5C866.23 405.87 862.22 405.67 869.3 405.5C876.38 405.33 900.88 405.5 907.2 405.5" fill="none" stroke="#ea3439" stroke-width="1.85" stroke-linejoin="round" stroke-linecap="butt"/>
<line x1="506.4" y1="392.9" x2="506.4" y2="654.05" stroke="#555" stroke-width="1.6"/>
<line x1="927.4" y1="392.9" x2="927.4" y2="654.05" stroke="#555" stroke-width="1.5"/>
<line x1="505.6" y1="393.6" x2="928.15" y2="393.6" stroke="#444" stroke-width="1.4"/>
<line x1="505.6" y1="653.3" x2="928.15" y2="653.3" stroke="#444" stroke-width="1.5"/>
<g font-size="10.0" fill="#333"><text x="488.9" y="647.3" textLength="13.9" lengthAdjust="spacingAndGlyphs">0.0</text><text x="488.9" y="623.61" textLength="13.9" lengthAdjust="spacingAndGlyphs">0.1</text><text x="488.9" y="599.92" textLength="13.9" lengthAdjust="spacingAndGlyphs">0.2</text><text x="488.9" y="576.23" textLength="13.9" lengthAdjust="spacingAndGlyphs">0.3</text><text x="488.9" y="552.54" textLength="13.9" lengthAdjust="spacingAndGlyphs">0.4</text><text x="488.9" y="528.85" textLength="13.9" lengthAdjust="spacingAndGlyphs">0.5</text><text x="488.9" y="505.16" textLength="13.9" lengthAdjust="spacingAndGlyphs">0.6</text><text x="488.9" y="481.47" textLength="13.9" lengthAdjust="spacingAndGlyphs">0.7</text><text x="488.9" y="457.78" textLength="13.9" lengthAdjust="spacingAndGlyphs">0.8</text><text x="488.9" y="434.09" textLength="13.9" lengthAdjust="spacingAndGlyphs">0.9</text><text x="488.9" y="410.4" textLength="13.9" lengthAdjust="spacingAndGlyphs">1.0</text><text x="505.67" y="668.5" textLength="19.46" lengthAdjust="spacingAndGlyphs">12.0</text><text x="540.14" y="668.5" textLength="19.46" lengthAdjust="spacingAndGlyphs">12.5</text><text x="574.62" y="668.5" textLength="19.46" lengthAdjust="spacingAndGlyphs">13.0</text><text x="609.1" y="668.5" textLength="19.46" lengthAdjust="spacingAndGlyphs">13.5</text><text x="643.57" y="668.5" textLength="19.46" lengthAdjust="spacingAndGlyphs">14.0</text><text x="678.04" y="668.5" textLength="19.46" lengthAdjust="spacingAndGlyphs">14.5</text><text x="712.52" y="668.5" textLength="19.46" lengthAdjust="spacingAndGlyphs">15.0</text><text x="747" y="668.5" textLength="19.46" lengthAdjust="spacingAndGlyphs">15.5</text><text x="781.47" y="668.5" textLength="19.46" lengthAdjust="spacingAndGlyphs">16.0</text><text x="815.94" y="668.5" textLength="19.46" lengthAdjust="spacingAndGlyphs">16.5</text><text x="850.42" y="668.5" textLength="19.46" lengthAdjust="spacingAndGlyphs">17.0</text><text x="884.89" y="668.5" textLength="19.46" lengthAdjust="spacingAndGlyphs">17.5</text></g>
<g font-size="15.8" font-weight="bold" fill="#111"><text x="576.99" y="380.5" textLength="72.67" lengthAdjust="spacingAndGlyphs">Response</text><text x="653.78" y="380.5" textLength="15.6" lengthAdjust="spacingAndGlyphs">of</text><text x="673.52" y="380.5" textLength="54.85" lengthAdjust="spacingAndGlyphs">habitat</text><text x="732.5" y="380.5" textLength="11.07" lengthAdjust="spacingAndGlyphs">A</text><text x="747.7" y="380.5" textLength="16.17" lengthAdjust="spacingAndGlyphs">to</text><text x="768" y="380.5" textLength="96.73" lengthAdjust="spacingAndGlyphs">temperature</text></g>
<text x="680.7" y="692.1" font-size="15.6" font-weight="bold" fill="#111" textLength="96.9" lengthAdjust="spacingAndGlyphs">Temperature</text>
<text x="471.85" y="381" font-size="31.0" font-weight="bold" fill="#000">E</text>
<text transform="translate(485.7,547.1) rotate(-90)" x="0" y="0" font-size="10.8" fill="#2a2a2a" textLength="60.5" lengthAdjust="spacingAndGlyphs">cloglog output</text>
<g stroke="#cdcdcd" stroke-width="1.0"><line x1="1043.5" y1="393.3" x2="1043.5" y2="652.5"/><line x1="1097.37" y1="393.3" x2="1097.37" y2="652.5"/><line x1="1151.24" y1="393.3" x2="1151.24" y2="652.5"/><line x1="1205.11" y1="393.3" x2="1205.11" y2="652.5"/><line x1="1258.98" y1="393.3" x2="1258.98" y2="652.5"/><line x1="1312.85" y1="393.3" x2="1312.85" y2="652.5"/><line x1="1366.72" y1="393.3" x2="1366.72" y2="652.5"/><line x1="993" y1="621.59" x2="1414" y2="621.59"/><line x1="993" y1="589.62" x2="1414" y2="589.62"/><line x1="993" y1="557.65" x2="1414" y2="557.65"/><line x1="993" y1="525.68" x2="1414" y2="525.68"/><line x1="993" y1="493.71" x2="1414" y2="493.71"/><line x1="993" y1="461.74" x2="1414" y2="461.74"/><line x1="993" y1="429.77" x2="1414" y2="429.77"/><line x1="993" y1="397.8" x2="1414" y2="397.8"/></g>
<path d="M1043.5 652.5V649.5M1043.5 393.3V396.3M1097.37 652.5V649.5M1097.37 393.3V396.3M1151.24 652.5V649.5M1151.24 393.3V396.3M1205.11 652.5V649.5M1205.11 393.3V396.3M1258.98 652.5V649.5M1258.98 393.3V396.3M1312.85 652.5V649.5M1312.85 393.3V396.3M1366.72 652.5V649.5M1366.72 393.3V396.3M993 621.59H996M1414 621.59H1411M993 589.62H996M1414 589.62H1411M993 557.65H996M1414 557.65H1411M993 525.68H996M1414 525.68H1411M993 493.71H996M1414 493.71H1411M993 461.74H996M1414 461.74H1411M993 429.77H996M1414 429.77H1411M993 397.8H996M1414 397.8H1411" stroke="#3a3a3a" stroke-width="1.3" fill="none"/>
<path d="M1012.2 405.1L1043.4 405.1L1044.46 405.37L1045.52 405.64L1046.58 405.91L1047.63 406.19L1048.69 406.48L1049.74 406.77L1050.79 407.07L1051.83 407.38L1052.88 407.69L1053.92 408L1054.96 408.32L1056 408.65L1057.04 408.98L1058.07 409.32L1059.1 409.66L1060.13 410.01L1061.16 410.36L1062.19 410.72L1063.21 411.09L1064.23 411.46L1065.25 411.83L1066.27 412.21L1067.28 412.6L1068.3 412.99L1069.31 413.38L1070.32 413.78L1071.32 414.19L1072.33 414.6L1073.33 415.02L1074.33 415.44L1075.33 415.86L1076.32 416.29L1077.32 416.73L1078.31 417.17L1079.3 417.61L1080.29 418.06L1081.27 418.52L1082.25 418.97L1083.23 419.44L1084.21 419.91L1085.19 420.38L1086.16 420.86L1087.13 421.34L1088.1 421.83L1089.07 422.32L1090.04 422.81L1091 423.31L1091.96 423.82L1092.92 424.32L1093.87 424.84L1094.83 425.35L1095.78 425.88L1096.73 426.4L1097.68 426.93L1098.62 427.47L1099.56 428L1100.5 428.55L1101.44 429.09L1102.38 429.64L1103.31 430.2L1104.24 430.76L1105.17 431.32L1106.1 431.89L1107.02 432.46L1107.95 433.03L1108.87 433.61L1109.78 434.19L1110.7 434.77L1111.61 435.36L1112.52 435.96L1113.43 436.55L1114.34 437.15L1115.24 437.76L1116.15 438.36L1117.04 438.98L1117.94 439.59L1118.84 440.21L1119.73 440.83L1120.62 441.45L1121.51 442.08L1122.39 442.71L1123.27 443.35L1124.16 443.99L1125.03 444.63L1125.91 445.27L1126.78 445.92L1127.66 446.57L1128.52 447.23L1129.39 447.88L1130.26 448.54L1131.12 449.21L1131.98 449.87L1132.83 450.54L1133.69 451.22L1134.54 451.89L1135.39 452.57L1136.24 453.25L1137.08 453.93L1137.93 454.62L1138.77 455.31L1139.61 456L1140.44 456.7L1141.28 457.39L1142.11 458.09L1142.94 458.79L1143.77 459.5L1144.59 460.2L1145.42 460.91L1146.24 461.62L1147.06 462.33L1147.88 463.05L1148.7 463.76L1149.52 464.48L1150.33 465.2L1151.15 465.92L1151.96 466.64L1152.77 467.37L1153.58 468.09L1154.39 468.82L1155.2 469.54L1156 470.27L1156.81 471L1157.62 471.73L1158.42 472.46L1159.22 473.2L1160.03 473.93L1160.83 474.66L1161.63 475.4L1162.43 476.13L1163.24 476.87L1164.04 477.6L1164.84 478.34L1165.64 479.08L1166.44 479.81L1167.24 480.55L1168.04 481.29L1168.84 482.02L1169.64 482.76L1170.44 483.49L1171.24 484.23L1172.04 484.97L1172.84 485.7L1173.64 486.44L1174.44 487.17L1175.25 487.9L1176.05 488.64L1176.85 489.37L1177.66 490.1L1178.46 490.83L1179.26 491.56L1180.07 492.29L1180.87 493.02L1181.68 493.75L1182.48 494.48L1183.29 495.21L1184.09 495.94L1184.9 496.67L1185.7 497.4L1186.51 498.13L1187.31 498.86L1188.12 499.59L1188.92 500.32L1189.72 501.05L1190.53 501.78L1191.33 502.51L1192.14 503.24L1192.94 503.98L1193.74 504.71L1194.54 505.44L1195.34 506.18L1196.14 506.91L1196.94 507.65L1197.74 508.38L1198.54 509.12L1199.34 509.86L1200.13 510.59L1200.93 511.33L1201.73 512.07L1202.52 512.81L1203.31 513.56L1204.1 514.3L1204.9 515.05L1205.69 515.79L1206.47 516.54L1207.26 517.29L1208.05 518.04L1208.83 518.79L1209.62 519.54L1210.4 520.3L1211.18 521.05L1211.96 521.81L1212.74 522.57L1213.52 523.32L1214.3 524.08L1215.08 524.84L1215.85 525.61L1216.63 526.37L1217.4 527.13L1218.18 527.89L1218.95 528.66L1219.73 529.42L1220.5 530.19L1221.27 530.95L1222.05 531.72L1222.82 532.48L1223.59 533.25L1224.36 534.01L1225.14 534.78L1225.91 535.55L1226.68 536.31L1227.45 537.08L1228.23 537.84L1229 538.61L1229.77 539.37L1230.55 540.14L1231.32 540.9L1232.1 541.66L1232.87 542.42L1233.65 543.18L1234.43 543.94L1235.21 544.7L1235.98 545.46L1236.76 546.22L1237.54 546.98L1238.33 547.73L1239.11 548.49L1239.89 549.24L1240.68 549.99L1241.46 550.74L1242.25 551.49L1243.04 552.24L1243.83 552.98L1244.62 553.72L1245.42 554.47L1246.21 555.21L1247.01 555.94L1247.81 556.68L1248.61 557.42L1249.41 558.15L1250.21 558.88L1251.02 559.61L1251.82 560.34L1252.63 561.06L1253.44 561.79L1254.25 562.51L1255.06 563.23L1255.87 563.95L1256.69 564.67L1257.5 565.39L1258.32 566.1L1259.14 566.82L1259.96 567.53L1260.78 568.24L1261.6 568.95L1262.42 569.66L1263.25 570.36L1264.07 571.07L1264.9 571.78L1265.73 572.48L1266.55 573.18L1267.38 573.88L1268.21 574.58L1269.05 575.28L1269.88 575.98L1270.71 576.68L1271.55 577.37L1272.38 578.07L1273.22 578.76L1274.05 579.45L1274.89 580.15L1275.73 580.84L1276.57 581.53L1277.41 582.22L1278.25 582.91L1279.09 583.59L1279.94 584.28L1280.78 584.97L1281.62 585.65L1282.47 586.34L1283.31 587.02L1284.16 587.71L1285 588.39L1285.85 589.07L1286.7 589.76L1287.55 590.44L1288.4 591.12L1289.25 591.8L1290.1 592.47L1290.95 593.15L1291.8 593.83L1292.65 594.5L1293.5 595.18L1294.36 595.85L1295.21 596.53L1296.07 597.2L1296.92 597.87L1297.78 598.54L1298.64 599.21L1299.5 599.87L1300.36 600.54L1301.22 601.21L1302.08 601.87L1302.94 602.53L1303.8 603.19L1304.67 603.85L1305.53 604.51L1306.4 605.17L1307.26 605.83L1308.13 606.48L1309 607.13L1309.87 607.78L1310.74 608.43L1311.61 609.08L1312.49 609.73L1313.36 610.37L1314.24 611.01L1315.12 611.65L1315.99 612.29L1316.88 612.92L1317.76 613.55L1318.64 614.18L1319.53 614.81L1320.42 615.43L1321.3 616.05L1322.2 616.67L1323.09 617.29L1323.98 617.9L1324.88 618.51L1325.78 619.11L1326.68 619.72L1327.58 620.32L1328.49 620.92L1329.4 621.51L1330.3 622.1L1331.22 622.69L1332.13 623.28L1333.04 623.86L1333.96 624.44L1334.87 625.02L1335.79 625.6L1336.71 626.17L1337.64 626.74L1338.56 627.31L1339.49 627.88L1340.41 628.44L1341.34 629L1342.27 629.56L1343.2 630.12L1344.14 630.68L1345.07 631.23L1346.01 631.78L1346.94 632.33L1347.88 632.88L1348.82 633.43L1349.76 633.97L1350.7 634.51L1351.64 635.06L1352.59 635.6L1353.53 636.14L1354.47 636.68L1355.42 637.21L1356.37 637.75L1357.31 638.29L1358.26 638.82L1359.21 639.36L1360.16 639.89L1361.1 640.43L1362.05 640.96L1363 641.5L1394.1 641.5" fill="none" stroke="#ea3439" stroke-width="1.85" stroke-linejoin="round" stroke-linecap="butt"/>
<line x1="993" y1="392.55" x2="993" y2="653.25" stroke="#444" stroke-width="1.8"/>
<line x1="1414" y1="392.55" x2="1414" y2="653.25" stroke="#444" stroke-width="1.5"/>
<line x1="992.1" y1="393.3" x2="1414.75" y2="393.3" stroke="#555" stroke-width="1.5"/>
<line x1="992.1" y1="652.5" x2="1414.75" y2="652.5" stroke="#444" stroke-width="1.5"/>
<g font-size="10.0" fill="#333"><text x="975.6" y="626.59" textLength="13.9" lengthAdjust="spacingAndGlyphs">0.3</text><text x="975.6" y="594.62" textLength="13.9" lengthAdjust="spacingAndGlyphs">0.4</text><text x="975.6" y="562.65" textLength="13.9" lengthAdjust="spacingAndGlyphs">0.5</text><text x="975.6" y="530.68" textLength="13.9" lengthAdjust="spacingAndGlyphs">0.6</text><text x="975.6" y="498.71" textLength="13.9" lengthAdjust="spacingAndGlyphs">0.7</text><text x="975.6" y="466.74" textLength="13.9" lengthAdjust="spacingAndGlyphs">0.8</text><text x="975.6" y="434.77" textLength="13.9" lengthAdjust="spacingAndGlyphs">0.9</text><text x="975.6" y="402.8" textLength="13.9" lengthAdjust="spacingAndGlyphs">1.0</text><text x="1033.77" y="668" textLength="19.46" lengthAdjust="spacingAndGlyphs">0.00</text><text x="1087.64" y="668" textLength="19.46" lengthAdjust="spacingAndGlyphs">0.01</text><text x="1141.51" y="668" textLength="19.46" lengthAdjust="spacingAndGlyphs">0.02</text><text x="1195.38" y="668" textLength="19.46" lengthAdjust="spacingAndGlyphs">0.03</text><text x="1249.25" y="668" textLength="19.46" lengthAdjust="spacingAndGlyphs">0.04</text><text x="1303.12" y="668" textLength="19.46" lengthAdjust="spacingAndGlyphs">0.05</text><text x="1356.99" y="668" textLength="19.46" lengthAdjust="spacingAndGlyphs">0.06</text></g>
<g font-size="15.8" font-weight="bold" fill="#111"><text x="1071.08" y="380.5" textLength="72.85" lengthAdjust="spacingAndGlyphs">Response</text><text x="1148.07" y="380.5" textLength="15.64" lengthAdjust="spacingAndGlyphs">of</text><text x="1167.86" y="380.5" textLength="54.99" lengthAdjust="spacingAndGlyphs">habitat</text><text x="1226.98" y="380.5" textLength="11.1" lengthAdjust="spacingAndGlyphs">A</text><text x="1242.22" y="380.5" textLength="16.21" lengthAdjust="spacingAndGlyphs">to</text><text x="1262.57" y="380.5" textLength="59.46" lengthAdjust="spacingAndGlyphs">velocity</text></g>
<text x="1158.6" y="692.1" font-size="15.6" font-weight="bold" fill="#111" textLength="60.1" lengthAdjust="spacingAndGlyphs">Velocity</text>
<text x="963.25" y="381" font-size="31.0" font-weight="bold" fill="#000">F</text>
<text transform="translate(972.3,547.1) rotate(-90)" x="0" y="0" font-size="10.8" fill="#2a2a2a" textLength="60.5" lengthAdjust="spacingAndGlyphs">cloglog output</text>
<g stroke="#8a8a8a" stroke-width="0.9"><line x1="165.9" y1="31.1" x2="167.5" y2="31.1"/><line x1="225" y1="31.1" x2="226.6" y2="31.1"/><line x1="286.8" y1="31.1" x2="291.2" y2="31.1"/><line x1="303.9" y1="31.1" x2="310.3" y2="31.1"/><line x1="649" y1="33.4" x2="650.6" y2="33.4"/><line x1="707.8" y1="33.4" x2="709.4" y2="33.4"/><line x1="776.1" y1="33.4" x2="782.6" y2="33.4"/><line x1="643.4" y1="391.4" x2="645" y2="391.4"/><line x1="702" y1="391.4" x2="703.6" y2="391.4"/><line x1="781.2" y1="391.4" x2="787.2" y2="391.4"/></g>
</svg></body></html>
